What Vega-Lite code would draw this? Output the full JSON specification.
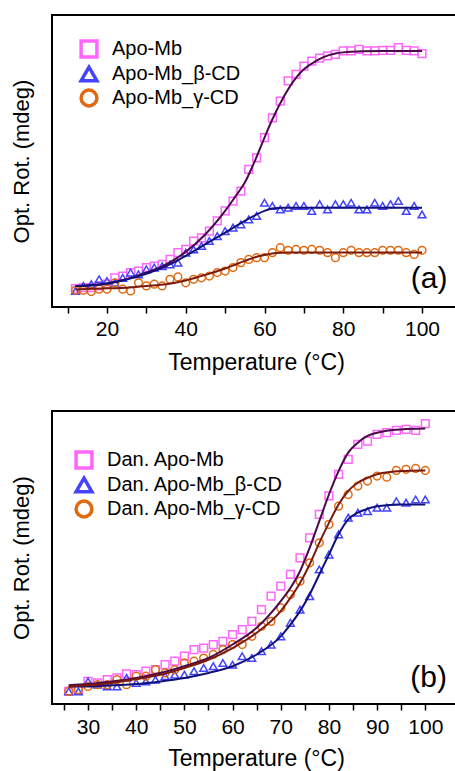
{
 "$schema": "https://vega.github.io/schema/vega-lite/v6.json",
 "padding": {"left": 9, "top": 14, "right": 0, "bottom": 0},
 "background": "white",
 "bounds": "flush",
 "spacing": 104,
 "config": {
  "font": "Liberation Sans",
  "view": {"stroke": "black", "strokeWidth": 2},
  "axis": {"labelColor": "black", "titleColor": "black", "titleFontWeight": "normal", "grid": false}
 },
 "resolve": {
  "scale": {"color": "independent", "shape": "independent", "stroke": "independent", "x": "independent", "y": "independent"},
  "legend": {"color": "independent", "shape": "independent"}
 },
 "datasets": {
  "a_pts": [
   {"s":"Apo-Mb","t":12,"v":6.3},{"s":"Apo-Mb","t":14,"v":6.6},{"s":"Apo-Mb","t":16,"v":6.6},{"s":"Apo-Mb","t":18,"v":7.2},{"s":"Apo-Mb","t":20,"v":7.8},{"s":"Apo-Mb","t":22,"v":10.0},{"s":"Apo-Mb","t":24,"v":10.6},{"s":"Apo-Mb","t":26,"v":11.8},{"s":"Apo-Mb","t":28,"v":12.3},{"s":"Apo-Mb","t":30,"v":13.5},{"s":"Apo-Mb","t":32,"v":14.0},{"s":"Apo-Mb","t":34,"v":14.6},{"s":"Apo-Mb","t":36,"v":16.3},{"s":"Apo-Mb","t":38,"v":18.6},{"s":"Apo-Mb","t":40,"v":19.7},{"s":"Apo-Mb","t":42,"v":22.6},{"s":"Apo-Mb","t":44,"v":23.7},{"s":"Apo-Mb","t":46,"v":26.0},{"s":"Apo-Mb","t":48,"v":29.5},{"s":"Apo-Mb","t":50,"v":32.9},{"s":"Apo-Mb","t":52,"v":36.3},{"s":"Apo-Mb","t":54,"v":39.7},{"s":"Apo-Mb","t":56,"v":47.1},{"s":"Apo-Mb","t":58,"v":51.1},{"s":"Apo-Mb","t":60,"v":58.0},{"s":"Apo-Mb","t":62,"v":64.8},{"s":"Apo-Mb","t":64,"v":70.5},{"s":"Apo-Mb","t":66,"v":77.4},{"s":"Apo-Mb","t":68,"v":79.7},{"s":"Apo-Mb","t":70,"v":82.5},{"s":"Apo-Mb","t":72,"v":84.2},{"s":"Apo-Mb","t":74,"v":85.2},{"s":"Apo-Mb","t":76,"v":86.0},{"s":"Apo-Mb","t":78,"v":86.5},{"s":"Apo-Mb","t":80,"v":87.7},{"s":"Apo-Mb","t":82,"v":87.7},{"s":"Apo-Mb","t":84,"v":88.2},{"s":"Apo-Mb","t":86,"v":87.7},{"s":"Apo-Mb","t":88,"v":87.7},{"s":"Apo-Mb","t":90,"v":87.9},{"s":"Apo-Mb","t":92,"v":87.9},{"s":"Apo-Mb","t":94,"v":88.8},{"s":"Apo-Mb","t":96,"v":87.9},{"s":"Apo-Mb","t":98,"v":87.7},{"s":"Apo-Mb","t":100,"v":86.8},
   {"s":"Apo-Mb_β-CD","t":12,"v":5.5},{"s":"Apo-Mb_β-CD","t":14,"v":7.2},{"s":"Apo-Mb_β-CD","t":16,"v":7.8},{"s":"Apo-Mb_β-CD","t":18,"v":9.5},{"s":"Apo-Mb_β-CD","t":20,"v":8.9},{"s":"Apo-Mb_β-CD","t":22,"v":8.3},{"s":"Apo-Mb_β-CD","t":24,"v":10.0},{"s":"Apo-Mb_β-CD","t":26,"v":11.8},{"s":"Apo-Mb_β-CD","t":28,"v":11.2},{"s":"Apo-Mb_β-CD","t":30,"v":12.9},{"s":"Apo-Mb_β-CD","t":32,"v":13.5},{"s":"Apo-Mb_β-CD","t":34,"v":14.0},{"s":"Apo-Mb_β-CD","t":36,"v":14.6},{"s":"Apo-Mb_β-CD","t":38,"v":15.2},{"s":"Apo-Mb_β-CD","t":40,"v":18.6},{"s":"Apo-Mb_β-CD","t":42,"v":19.7},{"s":"Apo-Mb_β-CD","t":44,"v":20.9},{"s":"Apo-Mb_β-CD","t":46,"v":22.6},{"s":"Apo-Mb_β-CD","t":48,"v":24.3},{"s":"Apo-Mb_β-CD","t":50,"v":26.0},{"s":"Apo-Mb_β-CD","t":52,"v":27.2},{"s":"Apo-Mb_β-CD","t":54,"v":28.3},{"s":"Apo-Mb_β-CD","t":56,"v":30.0},{"s":"Apo-Mb_β-CD","t":58,"v":31.2},{"s":"Apo-Mb_β-CD","t":60,"v":35.7},{"s":"Apo-Mb_β-CD","t":62,"v":34.6},{"s":"Apo-Mb_β-CD","t":64,"v":33.4},{"s":"Apo-Mb_β-CD","t":66,"v":34.0},{"s":"Apo-Mb_β-CD","t":68,"v":34.6},{"s":"Apo-Mb_β-CD","t":70,"v":34.6},{"s":"Apo-Mb_β-CD","t":72,"v":32.9},{"s":"Apo-Mb_β-CD","t":74,"v":35.2},{"s":"Apo-Mb_β-CD","t":76,"v":33.4},{"s":"Apo-Mb_β-CD","t":78,"v":35.2},{"s":"Apo-Mb_β-CD","t":80,"v":35.2},{"s":"Apo-Mb_β-CD","t":82,"v":35.7},{"s":"Apo-Mb_β-CD","t":84,"v":33.4},{"s":"Apo-Mb_β-CD","t":86,"v":33.4},{"s":"Apo-Mb_β-CD","t":88,"v":35.7},{"s":"Apo-Mb_β-CD","t":90,"v":34.6},{"s":"Apo-Mb_β-CD","t":92,"v":35.2},{"s":"Apo-Mb_β-CD","t":94,"v":36.3},{"s":"Apo-Mb_β-CD","t":96,"v":32.9},{"s":"Apo-Mb_β-CD","t":98,"v":34.6},{"s":"Apo-Mb_β-CD","t":100,"v":31.7},
   {"s":"Apo-Mb_γ-CD","t":12,"v":5.7},{"s":"Apo-Mb_γ-CD","t":14,"v":5.7},{"s":"Apo-Mb_γ-CD","t":16,"v":5.3},{"s":"Apo-Mb_γ-CD","t":18,"v":6.1},{"s":"Apo-Mb_γ-CD","t":20,"v":6.1},{"s":"Apo-Mb_γ-CD","t":22,"v":8.3},{"s":"Apo-Mb_γ-CD","t":24,"v":6.1},{"s":"Apo-Mb_γ-CD","t":26,"v":5.5},{"s":"Apo-Mb_γ-CD","t":28,"v":8.3},{"s":"Apo-Mb_γ-CD","t":30,"v":7.2},{"s":"Apo-Mb_γ-CD","t":32,"v":7.8},{"s":"Apo-Mb_γ-CD","t":34,"v":7.2},{"s":"Apo-Mb_γ-CD","t":36,"v":9.5},{"s":"Apo-Mb_γ-CD","t":38,"v":10.3},{"s":"Apo-Mb_γ-CD","t":40,"v":8.3},{"s":"Apo-Mb_γ-CD","t":42,"v":9.5},{"s":"Apo-Mb_γ-CD","t":44,"v":10.0},{"s":"Apo-Mb_γ-CD","t":46,"v":10.6},{"s":"Apo-Mb_γ-CD","t":48,"v":11.8},{"s":"Apo-Mb_γ-CD","t":50,"v":12.3},{"s":"Apo-Mb_γ-CD","t":52,"v":13.5},{"s":"Apo-Mb_γ-CD","t":54,"v":15.2},{"s":"Apo-Mb_γ-CD","t":56,"v":16.3},{"s":"Apo-Mb_γ-CD","t":58,"v":16.9},{"s":"Apo-Mb_γ-CD","t":60,"v":16.9},{"s":"Apo-Mb_γ-CD","t":62,"v":18.6},{"s":"Apo-Mb_γ-CD","t":64,"v":20.3},{"s":"Apo-Mb_γ-CD","t":66,"v":19.4},{"s":"Apo-Mb_γ-CD","t":68,"v":19.7},{"s":"Apo-Mb_γ-CD","t":70,"v":19.4},{"s":"Apo-Mb_γ-CD","t":72,"v":19.7},{"s":"Apo-Mb_γ-CD","t":74,"v":19.4},{"s":"Apo-Mb_γ-CD","t":76,"v":18.6},{"s":"Apo-Mb_γ-CD","t":78,"v":16.9},{"s":"Apo-Mb_γ-CD","t":80,"v":18.6},{"s":"Apo-Mb_γ-CD","t":82,"v":19.4},{"s":"Apo-Mb_γ-CD","t":84,"v":18.6},{"s":"Apo-Mb_γ-CD","t":86,"v":18.6},{"s":"Apo-Mb_γ-CD","t":88,"v":18.6},{"s":"Apo-Mb_γ-CD","t":90,"v":19.4},{"s":"Apo-Mb_γ-CD","t":92,"v":19.4},{"s":"Apo-Mb_γ-CD","t":94,"v":19.4},{"s":"Apo-Mb_γ-CD","t":96,"v":18.6},{"s":"Apo-Mb_γ-CD","t":98,"v":18.0},{"s":"Apo-Mb_γ-CD","t":100,"v":19.4}
  ],
  "a_fit": [
   {"s":"Apo-Mb","t":12,"v":7.2},{"s":"Apo-Mb","t":16,"v":7.4},{"s":"Apo-Mb","t":20,"v":8.0},{"s":"Apo-Mb","t":25,"v":9.5},{"s":"Apo-Mb","t":30,"v":11.8},{"s":"Apo-Mb","t":35,"v":14.6},{"s":"Apo-Mb","t":40,"v":18.9},{"s":"Apo-Mb","t":45,"v":24.9},{"s":"Apo-Mb","t":50,"v":32.9},{"s":"Apo-Mb","t":53,"v":38.6},{"s":"Apo-Mb","t":55,"v":42.6},{"s":"Apo-Mb","t":57,"v":48.3},{"s":"Apo-Mb","t":60,"v":58.0},{"s":"Apo-Mb","t":62,"v":64.3},{"s":"Apo-Mb","t":65,"v":72.3},{"s":"Apo-Mb","t":68,"v":78.5},{"s":"Apo-Mb","t":70,"v":81.4},{"s":"Apo-Mb","t":73,"v":84.2},{"s":"Apo-Mb","t":75,"v":85.6},{"s":"Apo-Mb","t":78,"v":86.8},{"s":"Apo-Mb","t":80,"v":87.2},{"s":"Apo-Mb","t":85,"v":87.6},{"s":"Apo-Mb","t":90,"v":87.7},{"s":"Apo-Mb","t":100,"v":87.7},
   {"s":"Apo-Mb_β-CD","t":12,"v":7.2},{"s":"Apo-Mb_β-CD","t":16,"v":7.5},{"s":"Apo-Mb_β-CD","t":20,"v":8.1},{"s":"Apo-Mb_β-CD","t":25,"v":9.5},{"s":"Apo-Mb_β-CD","t":30,"v":11.4},{"s":"Apo-Mb_β-CD","t":35,"v":14.0},{"s":"Apo-Mb_β-CD","t":40,"v":17.5},{"s":"Apo-Mb_β-CD","t":45,"v":21.5},{"s":"Apo-Mb_β-CD","t":50,"v":25.5},{"s":"Apo-Mb_β-CD","t":55,"v":29.5},{"s":"Apo-Mb_β-CD","t":58,"v":31.7},{"s":"Apo-Mb_β-CD","t":60,"v":32.9},{"s":"Apo-Mb_β-CD","t":62,"v":33.7},{"s":"Apo-Mb_β-CD","t":65,"v":34.0},{"s":"Apo-Mb_β-CD","t":70,"v":34.0},{"s":"Apo-Mb_β-CD","t":100,"v":34.0},
   {"s":"Apo-Mb_γ-CD","t":12,"v":6.0},{"s":"Apo-Mb_γ-CD","t":20,"v":6.4},{"s":"Apo-Mb_γ-CD","t":25,"v":6.6},{"s":"Apo-Mb_γ-CD","t":30,"v":7.2},{"s":"Apo-Mb_γ-CD","t":35,"v":7.8},{"s":"Apo-Mb_γ-CD","t":40,"v":9.1},{"s":"Apo-Mb_γ-CD","t":45,"v":11.0},{"s":"Apo-Mb_γ-CD","t":50,"v":13.2},{"s":"Apo-Mb_γ-CD","t":55,"v":15.8},{"s":"Apo-Mb_γ-CD","t":58,"v":17.2},{"s":"Apo-Mb_γ-CD","t":60,"v":17.8},{"s":"Apo-Mb_γ-CD","t":63,"v":18.5},{"s":"Apo-Mb_γ-CD","t":66,"v":18.7},{"s":"Apo-Mb_γ-CD","t":70,"v":18.7},{"s":"Apo-Mb_γ-CD","t":100,"v":18.7}
  ],
  "b_pts": [
   {"s":"Dan. Apo-Mb","t":26,"v":4.3},{"s":"Dan. Apo-Mb","t":28,"v":4.9},{"s":"Dan. Apo-Mb","t":30,"v":7.7},{"s":"Dan. Apo-Mb","t":32,"v":7.2},{"s":"Dan. Apo-Mb","t":34,"v":8.3},{"s":"Dan. Apo-Mb","t":36,"v":8.9},{"s":"Dan. Apo-Mb","t":38,"v":10.3},{"s":"Dan. Apo-Mb","t":40,"v":10.0},{"s":"Dan. Apo-Mb","t":42,"v":11.2},{"s":"Dan. Apo-Mb","t":44,"v":11.7},{"s":"Dan. Apo-Mb","t":46,"v":13.4},{"s":"Dan. Apo-Mb","t":48,"v":14.6},{"s":"Dan. Apo-Mb","t":50,"v":16.3},{"s":"Dan. Apo-Mb","t":52,"v":18.6},{"s":"Dan. Apo-Mb","t":54,"v":19.1},{"s":"Dan. Apo-Mb","t":56,"v":20.3},{"s":"Dan. Apo-Mb","t":58,"v":21.4},{"s":"Dan. Apo-Mb","t":60,"v":23.7},{"s":"Dan. Apo-Mb","t":62,"v":25.4},{"s":"Dan. Apo-Mb","t":64,"v":28.2},{"s":"Dan. Apo-Mb","t":66,"v":32.2},{"s":"Dan. Apo-Mb","t":68,"v":36.8},{"s":"Dan. Apo-Mb","t":70,"v":40.2},{"s":"Dan. Apo-Mb","t":72,"v":44.2},{"s":"Dan. Apo-Mb","t":74,"v":49.9},{"s":"Dan. Apo-Mb","t":76,"v":56.7},{"s":"Dan. Apo-Mb","t":78,"v":64.7},{"s":"Dan. Apo-Mb","t":80,"v":71.0},{"s":"Dan. Apo-Mb","t":82,"v":78.4},{"s":"Dan. Apo-Mb","t":84,"v":83.5},{"s":"Dan. Apo-Mb","t":86,"v":88.6},{"s":"Dan. Apo-Mb","t":88,"v":89.7},{"s":"Dan. Apo-Mb","t":90,"v":92.0},{"s":"Dan. Apo-Mb","t":92,"v":92.6},{"s":"Dan. Apo-Mb","t":94,"v":93.4},{"s":"Dan. Apo-Mb","t":96,"v":93.7},{"s":"Dan. Apo-Mb","t":98,"v":93.4},{"s":"Dan. Apo-Mb","t":100,"v":95.7},
   {"s":"Dan. Apo-Mb_β-CD","t":26,"v":4.3},{"s":"Dan. Apo-Mb_β-CD","t":28,"v":4.3},{"s":"Dan. Apo-Mb_β-CD","t":30,"v":7.7},{"s":"Dan. Apo-Mb_β-CD","t":32,"v":6.6},{"s":"Dan. Apo-Mb_β-CD","t":34,"v":6.0},{"s":"Dan. Apo-Mb_β-CD","t":36,"v":6.0},{"s":"Dan. Apo-Mb_β-CD","t":38,"v":8.9},{"s":"Dan. Apo-Mb_β-CD","t":40,"v":7.2},{"s":"Dan. Apo-Mb_β-CD","t":42,"v":7.7},{"s":"Dan. Apo-Mb_β-CD","t":44,"v":8.3},{"s":"Dan. Apo-Mb_β-CD","t":46,"v":9.5},{"s":"Dan. Apo-Mb_β-CD","t":48,"v":10.0},{"s":"Dan. Apo-Mb_β-CD","t":50,"v":10.0},{"s":"Dan. Apo-Mb_β-CD","t":52,"v":11.2},{"s":"Dan. Apo-Mb_β-CD","t":54,"v":12.3},{"s":"Dan. Apo-Mb_β-CD","t":56,"v":12.9},{"s":"Dan. Apo-Mb_β-CD","t":58,"v":14.0},{"s":"Dan. Apo-Mb_β-CD","t":60,"v":13.4},{"s":"Dan. Apo-Mb_β-CD","t":62,"v":16.3},{"s":"Dan. Apo-Mb_β-CD","t":64,"v":15.7},{"s":"Dan. Apo-Mb_β-CD","t":66,"v":18.0},{"s":"Dan. Apo-Mb_β-CD","t":68,"v":20.3},{"s":"Dan. Apo-Mb_β-CD","t":70,"v":23.1},{"s":"Dan. Apo-Mb_β-CD","t":72,"v":27.7},{"s":"Dan. Apo-Mb_β-CD","t":74,"v":32.2},{"s":"Dan. Apo-Mb_β-CD","t":76,"v":36.8},{"s":"Dan. Apo-Mb_β-CD","t":78,"v":45.9},{"s":"Dan. Apo-Mb_β-CD","t":80,"v":51.0},{"s":"Dan. Apo-Mb_β-CD","t":82,"v":57.9},{"s":"Dan. Apo-Mb_β-CD","t":84,"v":63.6},{"s":"Dan. Apo-Mb_β-CD","t":86,"v":65.3},{"s":"Dan. Apo-Mb_β-CD","t":88,"v":65.8},{"s":"Dan. Apo-Mb_β-CD","t":90,"v":67.0},{"s":"Dan. Apo-Mb_β-CD","t":92,"v":67.0},{"s":"Dan. Apo-Mb_β-CD","t":94,"v":69.2},{"s":"Dan. Apo-Mb_β-CD","t":96,"v":68.7},{"s":"Dan. Apo-Mb_β-CD","t":98,"v":69.8},{"s":"Dan. Apo-Mb_β-CD","t":100,"v":69.8},
   {"s":"Dan. Apo-Mb_γ-CD","t":26,"v":4.3},{"s":"Dan. Apo-Mb_γ-CD","t":28,"v":4.9},{"s":"Dan. Apo-Mb_γ-CD","t":30,"v":6.0},{"s":"Dan. Apo-Mb_γ-CD","t":32,"v":6.6},{"s":"Dan. Apo-Mb_γ-CD","t":34,"v":6.6},{"s":"Dan. Apo-Mb_γ-CD","t":36,"v":8.3},{"s":"Dan. Apo-Mb_γ-CD","t":38,"v":6.6},{"s":"Dan. Apo-Mb_γ-CD","t":40,"v":9.5},{"s":"Dan. Apo-Mb_γ-CD","t":42,"v":9.5},{"s":"Dan. Apo-Mb_γ-CD","t":44,"v":11.7},{"s":"Dan. Apo-Mb_γ-CD","t":46,"v":10.6},{"s":"Dan. Apo-Mb_γ-CD","t":48,"v":11.7},{"s":"Dan. Apo-Mb_γ-CD","t":50,"v":14.0},{"s":"Dan. Apo-Mb_γ-CD","t":52,"v":14.6},{"s":"Dan. Apo-Mb_γ-CD","t":54,"v":15.7},{"s":"Dan. Apo-Mb_γ-CD","t":56,"v":16.9},{"s":"Dan. Apo-Mb_γ-CD","t":58,"v":18.6},{"s":"Dan. Apo-Mb_γ-CD","t":60,"v":20.3},{"s":"Dan. Apo-Mb_γ-CD","t":62,"v":20.3},{"s":"Dan. Apo-Mb_γ-CD","t":64,"v":23.1},{"s":"Dan. Apo-Mb_γ-CD","t":66,"v":26.5},{"s":"Dan. Apo-Mb_γ-CD","t":68,"v":28.2},{"s":"Dan. Apo-Mb_γ-CD","t":70,"v":32.8},{"s":"Dan. Apo-Mb_γ-CD","t":72,"v":37.4},{"s":"Dan. Apo-Mb_γ-CD","t":74,"v":41.9},{"s":"Dan. Apo-Mb_γ-CD","t":76,"v":48.2},{"s":"Dan. Apo-Mb_γ-CD","t":78,"v":55.0},{"s":"Dan. Apo-Mb_γ-CD","t":80,"v":61.3},{"s":"Dan. Apo-Mb_γ-CD","t":82,"v":67.5},{"s":"Dan. Apo-Mb_γ-CD","t":84,"v":71.5},{"s":"Dan. Apo-Mb_γ-CD","t":86,"v":74.4},{"s":"Dan. Apo-Mb_γ-CD","t":88,"v":76.1},{"s":"Dan. Apo-Mb_γ-CD","t":90,"v":77.8},{"s":"Dan. Apo-Mb_γ-CD","t":92,"v":77.4},{"s":"Dan. Apo-Mb_γ-CD","t":94,"v":79.7},{"s":"Dan. Apo-Mb_γ-CD","t":96,"v":80.1},{"s":"Dan. Apo-Mb_γ-CD","t":98,"v":80.4},{"s":"Dan. Apo-Mb_γ-CD","t":100,"v":79.7}
  ],
  "b_fit": [
   {"s":"Dan. Apo-Mb","t":26,"v":6.4},{"s":"Dan. Apo-Mb","t":30,"v":6.8},{"s":"Dan. Apo-Mb","t":35,"v":7.7},{"s":"Dan. Apo-Mb","t":40,"v":8.9},{"s":"Dan. Apo-Mb","t":45,"v":10.6},{"s":"Dan. Apo-Mb","t":50,"v":12.9},{"s":"Dan. Apo-Mb","t":55,"v":15.7},{"s":"Dan. Apo-Mb","t":60,"v":20.3},{"s":"Dan. Apo-Mb","t":65,"v":26.0},{"s":"Dan. Apo-Mb","t":70,"v":35.1},{"s":"Dan. Apo-Mb","t":72,"v":39.6},{"s":"Dan. Apo-Mb","t":74,"v":45.3},{"s":"Dan. Apo-Mb","t":76,"v":53.3},{"s":"Dan. Apo-Mb","t":78,"v":62.4},{"s":"Dan. Apo-Mb","t":80,"v":71.5},{"s":"Dan. Apo-Mb","t":82,"v":79.5},{"s":"Dan. Apo-Mb","t":84,"v":85.8},{"s":"Dan. Apo-Mb","t":86,"v":89.2},{"s":"Dan. Apo-Mb","t":88,"v":91.5},{"s":"Dan. Apo-Mb","t":90,"v":92.6},{"s":"Dan. Apo-Mb","t":95,"v":93.7},{"s":"Dan. Apo-Mb","t":100,"v":94.0},
   {"s":"Dan. Apo-Mb_β-CD","t":26,"v":6.0},{"s":"Dan. Apo-Mb_β-CD","t":30,"v":6.0},{"s":"Dan. Apo-Mb_β-CD","t":35,"v":6.4},{"s":"Dan. Apo-Mb_β-CD","t":40,"v":6.8},{"s":"Dan. Apo-Mb_β-CD","t":45,"v":7.7},{"s":"Dan. Apo-Mb_β-CD","t":50,"v":8.9},{"s":"Dan. Apo-Mb_β-CD","t":55,"v":10.6},{"s":"Dan. Apo-Mb_β-CD","t":60,"v":12.9},{"s":"Dan. Apo-Mb_β-CD","t":65,"v":16.9},{"s":"Dan. Apo-Mb_β-CD","t":70,"v":23.1},{"s":"Dan. Apo-Mb_β-CD","t":72,"v":27.1},{"s":"Dan. Apo-Mb_β-CD","t":74,"v":31.7},{"s":"Dan. Apo-Mb_β-CD","t":76,"v":37.4},{"s":"Dan. Apo-Mb_β-CD","t":78,"v":44.2},{"s":"Dan. Apo-Mb_β-CD","t":80,"v":51.0},{"s":"Dan. Apo-Mb_β-CD","t":82,"v":57.9},{"s":"Dan. Apo-Mb_β-CD","t":84,"v":63.0},{"s":"Dan. Apo-Mb_β-CD","t":86,"v":65.3},{"s":"Dan. Apo-Mb_β-CD","t":88,"v":66.6},{"s":"Dan. Apo-Mb_β-CD","t":90,"v":67.5},{"s":"Dan. Apo-Mb_β-CD","t":95,"v":68.1},{"s":"Dan. Apo-Mb_β-CD","t":100,"v":68.1},
   {"s":"Dan. Apo-Mb_γ-CD","t":26,"v":6.0},{"s":"Dan. Apo-Mb_γ-CD","t":30,"v":6.4},{"s":"Dan. Apo-Mb_γ-CD","t":35,"v":7.2},{"s":"Dan. Apo-Mb_γ-CD","t":40,"v":8.5},{"s":"Dan. Apo-Mb_γ-CD","t":45,"v":10.0},{"s":"Dan. Apo-Mb_γ-CD","t":50,"v":12.3},{"s":"Dan. Apo-Mb_γ-CD","t":55,"v":15.1},{"s":"Dan. Apo-Mb_γ-CD","t":60,"v":19.1},{"s":"Dan. Apo-Mb_γ-CD","t":65,"v":24.3},{"s":"Dan. Apo-Mb_γ-CD","t":70,"v":31.7},{"s":"Dan. Apo-Mb_γ-CD","t":72,"v":36.2},{"s":"Dan. Apo-Mb_γ-CD","t":74,"v":41.3},{"s":"Dan. Apo-Mb_γ-CD","t":76,"v":47.6},{"s":"Dan. Apo-Mb_γ-CD","t":78,"v":55.0},{"s":"Dan. Apo-Mb_γ-CD","t":80,"v":61.8},{"s":"Dan. Apo-Mb_γ-CD","t":82,"v":68.1},{"s":"Dan. Apo-Mb_γ-CD","t":84,"v":72.7},{"s":"Dan. Apo-Mb_γ-CD","t":86,"v":75.5},{"s":"Dan. Apo-Mb_γ-CD","t":88,"v":77.2},{"s":"Dan. Apo-Mb_γ-CD","t":90,"v":78.4},{"s":"Dan. Apo-Mb_γ-CD","t":95,"v":79.5},{"s":"Dan. Apo-Mb_γ-CD","t":100,"v":79.7}
  ]
 },
 "vconcat": [
  {
   "width": 408, "height": 292,
   "layer": [
    {
     "data": {"name": "a_pts"},
     "mark": {"type": "point", "filled": false, "strokeWidth": 1.5, "size": 60, "opacity": 1},
     "encoding": {
      "x": {"field": "t", "type": "quantitative", "scale": {"domain": [6.03, 109.65], "nice": false, "zero": false},
            "axis": {"title": "Temperature (°C)", "values": [10,20,30,40,50,60,70,80,90,100], "tickCount": 20, "labelExpr": "datum.value % 20 === 0 ? datum.label : ''", "domain": false, "tickSize": 6, "tickWidth": 1.5, "tickColor": "black", "labelFontSize": 21, "labelPadding": 5, "labelFlush": false, "labelOverlap": false, "titleFontSize": 23, "titlePadding": 12}},
      "y": {"field": "v", "type": "quantitative", "scale": {"domain": [0, 100], "nice": false},
            "axis": {"title": "Opt. Rot. (mdeg)", "labels": false, "ticks": false, "domain": false, "titleFontSize": 22, "titlePadding": 19}},
      "color": {"field": "s", "type": "nominal", "scale": {"domain": ["Apo-Mb", "Apo-Mb_β-CD", "Apo-Mb_γ-CD"], "range": ["#ff66ff", "#4444ff", "#e06a10"]},
            "legend": {"title": null, "orient": "none", "legendX": 27, "legendY": 24, "symbolSize": 250, "symbolStrokeWidth": 3.5, "labelFontSize": 20, "labelOffset": 13, "labelLimit": 300, "rowPadding": -6, "padding": 0, "labelColor": "black"}},
      "shape": {"field": "s", "type": "nominal", "scale": {"domain": ["Apo-Mb", "Apo-Mb_β-CD", "Apo-Mb_γ-CD"], "range": ["square", "triangle-up", "circle"]},
            "legend": {"title": null, "orient": "none", "legendX": 27, "legendY": 24, "symbolSize": 250, "symbolStrokeWidth": 3.5, "labelFontSize": 20, "labelOffset": 13, "labelLimit": 300, "rowPadding": -6, "padding": 0, "labelColor": "black"}}
     }
    },
    {
     "data": {"name": "a_fit"},
     "mark": {"type": "line", "strokeWidth": 2, "interpolate": "monotone"},
     "encoding": {
      "x": {"field": "t", "type": "quantitative"},
      "y": {"field": "v", "type": "quantitative"},
      "stroke": {"field": "s", "type": "nominal", "scale": {"domain": ["Apo-Mb", "Apo-Mb_β-CD", "Apo-Mb_γ-CD"], "range": ["#4a0a4a", "#10107a", "#7a1a0a"]}, "legend": null}
     }
    },
    {
     "data": {"values": [{"lab": "(a)"}]},
     "mark": {"type": "text", "fontSize": 30, "color": "black"},
     "encoding": {"x": {"datum": 101.8}, "y": {"datum": 9.5}, "text": {"field": "lab"}}
    }
   ]
  },
  {
   "width": 408, "height": 293,
   "layer": [
    {
     "data": {"name": "b_pts"},
     "mark": {"type": "point", "filled": false, "strokeWidth": 1.5, "size": 60, "opacity": 1},
     "encoding": {
      "x": {"field": "t", "type": "quantitative", "scale": {"domain": [22.53, 107.2], "nice": false, "zero": false},
            "axis": {"title": "Temperature (°C)", "values": [25,30,35,40,45,50,55,60,65,70,75,80,85,90,95,100], "tickCount": 20, "labelExpr": "datum.value % 10 === 0 ? datum.label : ''", "domain": false, "tickSize": 6, "tickWidth": 1.5, "tickColor": "black", "labelFontSize": 21, "labelPadding": 6, "labelFlush": false, "labelOverlap": false, "titleFontSize": 23, "titlePadding": 10}},
      "y": {"field": "v", "type": "quantitative", "scale": {"domain": [0, 100], "nice": false},
            "axis": {"title": "Opt. Rot. (mdeg)", "labels": false, "ticks": false, "domain": false, "titleFontSize": 22, "titlePadding": 19}},
      "color": {"field": "s", "type": "nominal", "scale": {"domain": ["Dan. Apo-Mb", "Dan. Apo-Mb_β-CD", "Dan. Apo-Mb_γ-CD"], "range": ["#ff66ff", "#4444ff", "#e06a10"]},
            "legend": {"title": null, "orient": "none", "legendX": 22, "legendY": 39, "symbolSize": 250, "symbolStrokeWidth": 3.5, "labelFontSize": 20, "labelOffset": 13, "labelLimit": 300, "rowPadding": -5, "padding": 0, "labelColor": "black"}},
      "shape": {"field": "s", "type": "nominal", "scale": {"domain": ["Dan. Apo-Mb", "Dan. Apo-Mb_β-CD", "Dan. Apo-Mb_γ-CD"], "range": ["square", "triangle-up", "circle"]},
            "legend": {"title": null, "orient": "none", "legendX": 22, "legendY": 39, "symbolSize": 250, "symbolStrokeWidth": 3.5, "labelFontSize": 20, "labelOffset": 13, "labelLimit": 300, "rowPadding": -5, "padding": 0, "labelColor": "black"}}
     }
    },
    {
     "data": {"name": "b_fit"},
     "mark": {"type": "line", "strokeWidth": 2, "interpolate": "monotone"},
     "encoding": {
      "x": {"field": "t", "type": "quantitative"},
      "y": {"field": "v", "type": "quantitative"},
      "stroke": {"field": "s", "type": "nominal", "scale": {"domain": ["Dan. Apo-Mb", "Dan. Apo-Mb_β-CD", "Dan. Apo-Mb_γ-CD"], "range": ["#4a0a4a", "#10107a", "#7a1a0a"]}, "legend": null}
     }
    },
    {
     "data": {"values": [{"lab": "(b)"}]},
     "mark": {"type": "text", "fontSize": 30, "color": "black"},
     "encoding": {"x": {"datum": 100.7}, "y": {"datum": 9.0}, "text": {"field": "lab"}}
    }
   ]
  }
 ]
}
